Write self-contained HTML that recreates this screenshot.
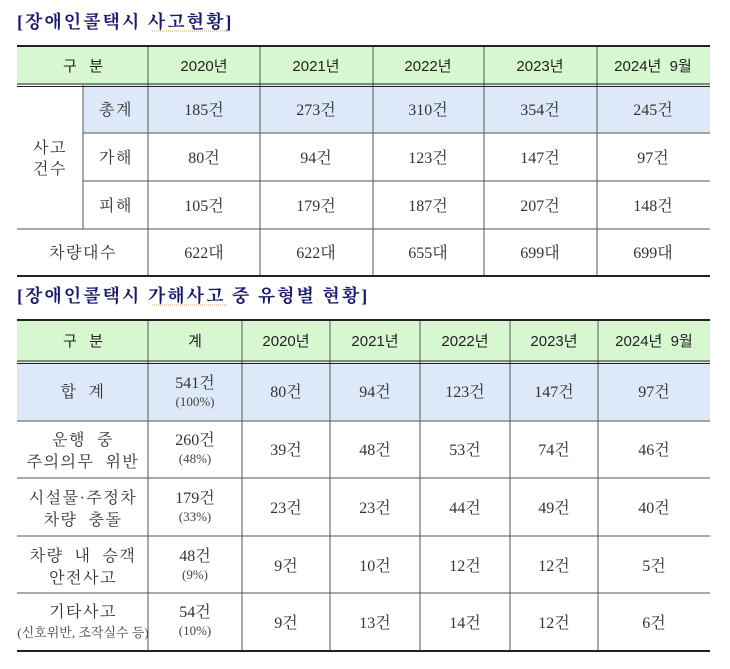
<!DOCTYPE html>
<html><head><meta charset="utf-8"><style>
html,body{margin:0;padding:0;background:#fff;width:730px;height:669px;overflow:hidden}
svg{display:block}
text{white-space:pre}
.s{font-family:"Liberation Sans","Noto Sans CJK KR",sans-serif;font-size:15px;fill:#222}
.r{font-family:"Liberation Serif","Noto Serif CJK SC",serif;font-size:16px;fill:#333}
.l{letter-spacing:1.5px}
.p{font-family:"Liberation Serif","Noto Serif CJK SC",serif;font-size:13px;fill:#444}
.t{font-family:"Liberation Serif","Noto Serif CJK SC",serif;font-size:18px;fill:#1a1a6e;font-weight:bold;letter-spacing:2px}
</style></head><body>
<svg width="730" height="669" xmlns="http://www.w3.org/2000/svg" xml:space="preserve">
<text class="t" x="17" y="28">[장애인콜택시 사고현황]</text>
<line x1="152" y1="31" x2="230" y2="31" stroke="#c9a96b" stroke-dasharray="1,1"/>
<rect x="17" y="46" width="693" height="39" fill="#d6f7d0"/>
<rect x="83" y="85" width="627" height="48" fill="#dde9f8"/>
<g stroke="#555" stroke-width="1">
<line x1="83" y1="133" x2="710" y2="133"/>
<line x1="83" y1="181" x2="710" y2="181"/>
<line x1="17" y1="229" x2="710" y2="229"/>
<line x1="83" y1="85" x2="83" y2="229"/>
<line x1="148" y1="46" x2="148" y2="276"/>
<line x1="260" y1="46" x2="260" y2="276"/>
<line x1="373" y1="46" x2="373" y2="276"/>
<line x1="484" y1="46" x2="484" y2="276"/>
<line x1="597" y1="46" x2="597" y2="276"/>
</g>
<g stroke="#222">
<line x1="17" y1="46" x2="710" y2="46" stroke-width="2"/>
<line x1="17" y1="84" x2="710" y2="84" stroke-width="1"/>
<line x1="17" y1="86.5" x2="710" y2="86.5" stroke-width="1"/>
<line x1="17" y1="276" x2="710" y2="276" stroke-width="2"/>
</g>
<g text-anchor="middle">
<text class="s" x="83" y="71">구   분</text>
<text class="s" x="204" y="71">2020년</text>
<text class="s" x="316" y="71">2021년</text>
<text class="s" x="428" y="71">2022년</text>
<text class="s" x="540" y="71">2023년</text>
<text class="s" x="653" y="71">2024년  9월</text>
<text class="r l" x="50" y="153">사고</text>
<text class="r l" x="50" y="174">건수</text>
<text class="r l" x="116" y="115">총계</text>
<text class="r l" x="116" y="163">가해</text>
<text class="r l" x="116" y="211">피해</text>
<text class="r l" x="83" y="258">차량대수</text>
<text class="r" x="204" y="115">185건</text><text class="r" x="316" y="115">273건</text><text class="r" x="428" y="115">310건</text><text class="r" x="540" y="115">354건</text><text class="r" x="653" y="115">245건</text>
<text class="r" x="204" y="163">80건</text><text class="r" x="316" y="163">94건</text><text class="r" x="428" y="163">123건</text><text class="r" x="540" y="163">147건</text><text class="r" x="653" y="163">97건</text>
<text class="r" x="204" y="211">105건</text><text class="r" x="316" y="211">179건</text><text class="r" x="428" y="211">187건</text><text class="r" x="540" y="211">207건</text><text class="r" x="653" y="211">148건</text>
<text class="r" x="204" y="258">622대</text><text class="r" x="316" y="258">622대</text><text class="r" x="428" y="258">655대</text><text class="r" x="540" y="258">699대</text><text class="r" x="653" y="258">699대</text>
</g>
<text class="t" x="17" y="302">[장애인콜택시 가해사고 중 유형별 현황]</text>
<line x1="152" y1="305" x2="228" y2="305" stroke="#c9a96b" stroke-dasharray="1,1"/>
<rect x="17" y="320" width="693" height="42" fill="#d6f7d0"/>
<rect x="17" y="362" width="693" height="59" fill="#dde9f8"/>
<g stroke="#555" stroke-width="1">
<line x1="17" y1="421" x2="710" y2="421"/>
<line x1="17" y1="478" x2="710" y2="478"/>
<line x1="17" y1="536" x2="710" y2="536"/>
<line x1="17" y1="593" x2="710" y2="593"/>
<line x1="148" y1="320" x2="148" y2="651"/>
<line x1="242" y1="320" x2="242" y2="651"/>
<line x1="330" y1="320" x2="330" y2="651"/>
<line x1="420" y1="320" x2="420" y2="651"/>
<line x1="510" y1="320" x2="510" y2="651"/>
<line x1="598" y1="320" x2="598" y2="651"/>
</g>
<g stroke="#222">
<line x1="17" y1="320" x2="710" y2="320" stroke-width="2"/>
<line x1="17" y1="361" x2="710" y2="361" stroke-width="1"/>
<line x1="17" y1="363.5" x2="710" y2="363.5" stroke-width="1"/>
<line x1="17" y1="651" x2="710" y2="651" stroke-width="2"/>
</g>
<g text-anchor="middle">
<text class="s" x="83" y="346">구   분</text>
<text class="s" x="195" y="346">계</text>
<text class="s" x="286" y="346">2020년</text>
<text class="s" x="375" y="346">2021년</text>
<text class="s" x="465" y="346">2022년</text>
<text class="s" x="554" y="346">2023년</text>
<text class="s" x="654" y="346">2024년  9월</text>
<text class="r l" x="83" y="397">합  계</text>
<text class="r l" x="83" y="445">운행  중</text><text class="r l" x="83" y="467">주의의무  위반</text>
<text class="r l" x="83" y="503">시설물·주정차</text><text class="r l" x="83" y="525">차량  충돌</text>
<text class="r l" x="83" y="561">차량  내  승객</text><text class="r l" x="83" y="583">안전사고</text>
<text class="r l" x="83" y="617">기타사고</text><text class="p" x="83" y="637">(신호위반, 조작실수 등)</text>
<text class="r" x="195" y="388">541건</text><text class="p" x="195" y="406">(100%)</text>
<text class="r" x="195" y="445">260건</text><text class="p" x="195" y="463">(48%)</text>
<text class="r" x="195" y="503">179건</text><text class="p" x="195" y="521">(33%)</text>
<text class="r" x="195" y="561">48건</text><text class="p" x="195" y="579">(9%)</text>
<text class="r" x="195" y="617">54건</text><text class="p" x="195" y="635">(10%)</text>
<text class="r" x="286" y="397">80건</text><text class="r" x="375" y="397">94건</text><text class="r" x="465" y="397">123건</text><text class="r" x="554" y="397">147건</text><text class="r" x="654" y="397">97건</text>
<text class="r" x="286" y="455">39건</text><text class="r" x="375" y="455">48건</text><text class="r" x="465" y="455">53건</text><text class="r" x="554" y="455">74건</text><text class="r" x="654" y="455">46건</text>
<text class="r" x="286" y="513">23건</text><text class="r" x="375" y="513">23건</text><text class="r" x="465" y="513">44건</text><text class="r" x="554" y="513">49건</text><text class="r" x="654" y="513">40건</text>
<text class="r" x="286" y="571">9건</text><text class="r" x="375" y="571">10건</text><text class="r" x="465" y="571">12건</text><text class="r" x="554" y="571">12건</text><text class="r" x="654" y="571">5건</text>
<text class="r" x="286" y="628">9건</text><text class="r" x="375" y="628">13건</text><text class="r" x="465" y="628">14건</text><text class="r" x="554" y="628">12건</text><text class="r" x="654" y="628">6건</text>
</g>
</svg>
</body></html>
